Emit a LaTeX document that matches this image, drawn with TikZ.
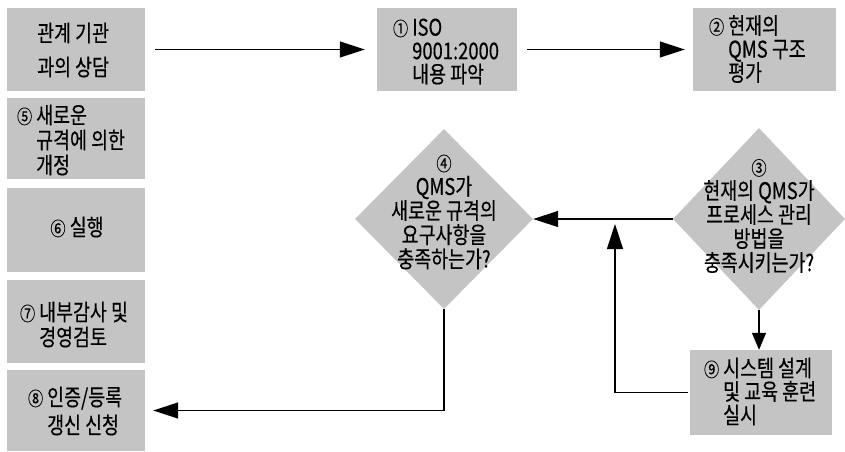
\documentclass[tikz,border=0pt]{standalone}
\usepackage{fontspec}
\setmainfont[FakeStretch=0.8,FakeBold=0.3]{Noto Sans CJK KR}
\usetikzlibrary{shapes.geometric,arrows.meta}
\definecolor{boxgray}{gray}{0.77}
\newcommand{\cnum}[1]{{\fontsize{19pt}{19pt}\selectfont #1}}
\newcommand{\circnum}[1]{\llap{\cnum{#1}\hspace{4pt}}}
\tikzset{
  box/.style={rectangle, fill=boxgray, draw=none, inner sep=0pt},
  dia/.style={diamond, fill=boxgray, draw=none, inner sep=0pt},
  txt/.style={inner sep=0pt, align=left, text=black},
  ctxt/.style={inner sep=0pt, align=center, text=black},
  conn/.style={draw=black, line width=1.2pt, -{Triangle[length=25pt,width=16pt]}},
  connsmall/.style={draw=black, line width=1.2pt, -{Triangle[length=17pt,width=14pt]}},
}
\begin{document}
\begin{tikzpicture}[x=1pt,y=-1pt]
\useasboundingbox (0,0) rectangle (845,451);

% boxes
\node[box, minimum width=138pt, minimum height=83pt] (b0) at (76,49.5) {};
\node[box, minimum width=140pt, minimum height=83pt] (b1) at (447,49.5) {};
\node[box, minimum width=143pt, minimum height=83pt] (b2) at (764.5,49.5) {};
\node[box, minimum width=138pt, minimum height=81pt] (b5) at (76,138.5) {};
\node[box, minimum width=138pt, minimum height=84pt] (b6) at (76,230) {};
\node[box, minimum width=138pt, minimum height=83pt] (b7) at (76,321.5) {};
\node[box, minimum width=138pt, minimum height=81pt] (b8) at (76,410.5) {};
\node[box, minimum width=142pt, minimum height=85pt] (b9) at (761,392.5) {};

% diamonds
\node[dia, minimum width=178pt, minimum height=180pt] (d4) at (444,219) {};
\node[dia, minimum width=172pt, minimum height=182pt] (d3) at (759,219) {};

% texts
\node[txt, anchor=west, font=\fontsize{23pt}{34pt}\selectfont] (t0) at (37,50) {관계 기관\\과의 상담};
\node[txt, anchor=west, font=\fontsize{23pt}{23.5pt}\selectfont] (t1) at (412,51.5) {\circnum{①}ISO\\9001:2000\\내용 파악};
\node[txt, anchor=west, font=\fontsize{23pt}{23.5pt}\selectfont] (t2) at (728,49) {\circnum{②}현재의\\QMS 구조\\평가};
\node[txt, anchor=west, font=\fontsize{23pt}{25pt}\selectfont] (t5) at (36,140) {\circnum{⑤}새로운\\규격에 의한\\개정};
\node[ctxt, font=\fontsize{23pt}{24pt}\selectfont] (t6) at (77,227) {\cnum{⑥} 실행};
\node[txt, anchor=west, font=\fontsize{23pt}{25pt}\selectfont] (t7) at (39,324.5) {\circnum{⑦}내부감사 및\\경영검토};
\node[txt, anchor=west, font=\fontsize{23pt}{28pt}\selectfont] (t8) at (47,411) {\circnum{⑧}인증/등록\\갱신 신청};
\node[txt, anchor=west, font=\fontsize{23pt}{23.5pt}\selectfont] (t9) at (723,391.5) {\circnum{⑨}시스템 설계\\및 교육 훈련\\실시};
\node[ctxt, font=\fontsize{23pt}{24.2pt}\selectfont] (t4) at (444,212) {\cnum{④}\\QMS가\\새로운 규격의\\요구사항을\\충족하는가?};
\node[ctxt, font=\fontsize{23pt}{24pt}\selectfont] (t3) at (759,216) {\cnum{③}\\현재의 QMS가\\프로세스 관리\\방법을\\충족시키는가?};

% connectors
\coordinate (up) at (615,224);
\draw[conn, shorten <=10pt, shorten >=12pt] (b0) -- (b1);
\draw[conn, shorten <=10pt, shorten >=8pt] (b1) -- (b2);
\draw[conn] (d3.west) -- (d4.east);
\draw[connsmall] (d3.south) -- (d3.south |- b9.north);
\draw[conn, shorten <=2pt] (b9.west) -| (up);
\draw[conn, shorten >=8pt] (d4.south) |- (b8.east);
\end{tikzpicture}
\end{document}
